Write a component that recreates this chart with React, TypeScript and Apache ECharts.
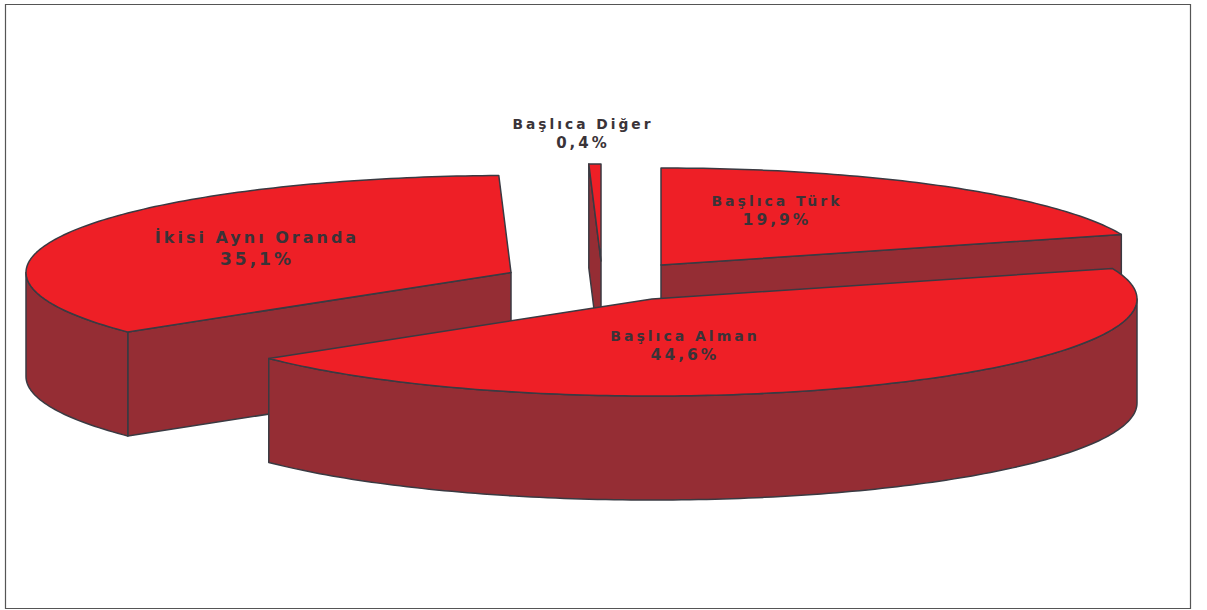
import React, { useEffect, useRef } from "react";
import * as echarts from "echarts";

// Share of each group, clockwise from twelve o'clock.
const categories = ["Başlıca Türk", "Başlıca Alman", "İkisi Aynı Oranda", "Başlıca Diğer"];
const shares = [19.9, 44.6, 35.1, 0.4];

// Exploded wedge placement: hub position, paint order, caption anchor and sizes.
const hubs = [
  [661, 265],
  [652, 299],
  [511, 272.5],
  [601, 261],
];
const paintOrder = [2, 3, 0, 1];
const captions = [
  { x: 777, y: 201, dy: 18.5, size: 14, valueSize: 15.5 },
  { x: 685, y: 336, dy: 19, size: 14, valueSize: 15.5 },
  { x: 257, y: 237, dy: 22, size: 16, valueSize: 17 },
  { x: 583, y: 124, dy: 19, size: 13.8, valueSize: 15 },
];

const RX = 485;
const RY = 97;
const DEPTH = 104;
const TOP_FILL = "#EE1F26";
const WALL_FILL = "#952D34";
const EDGE = "#3A3A42";
const INK = "#3A3338";
const DEG = Math.PI / 180;

const rimPoint = (hub: number[], deg: number, drop = 0) => [
  hub[0] + RX * Math.sin(deg * DEG),
  hub[1] - RY * Math.cos(deg * DEG) + drop,
];

const arcPoints = (hub: number[], from: number, to: number, drop = 0) => {
  const steps = Math.max(2, Math.ceil(Math.abs(to - from)));
  const pts: number[][] = [];
  for (let i = 0; i <= steps; i++) pts.push(rimPoint(hub, from + ((to - from) * i) / steps, drop));
  return pts;
};

const formatShare = (v: number) => v.toFixed(1).replace(".", ",") + "%";

const total = shares.reduce((a, b) => a + b, 0);

function renderWedge(params: any, api: any) {
  const i = params.dataIndex;
  const before = shares.slice(0, i).reduce((a, b) => a + b, 0);
  const start = (before / total) * 360;
  const end = start + (api.value(0) / total) * 360;
  const hub = hubs[i];
  const base = paintOrder[i] * 10;
  const face = (points: number[][], fill: string, z2: number) => ({
    type: "polygon",
    z2,
    shape: { points },
    style: { fill, stroke: EDGE, lineWidth: 1.5, lineJoin: "round" },
  });
  const children: any[] = [];

  // Cut faces that look toward the viewer
  if (start > 180 && start < 360) {
    const p = rimPoint(hub, start);
    children.push(face([hub, p, [p[0], p[1] + DEPTH], [hub[0], hub[1] + DEPTH]], WALL_FILL, base));
  }
  if (end > 0 && end < 180) {
    const p = rimPoint(hub, end);
    children.push(face([hub, p, [p[0], p[1] + DEPTH], [hub[0], hub[1] + DEPTH]], WALL_FILL, base));
  }

  // Outer rim, only the front half of the ellipse shows
  const rimFrom = Math.max(start, 90);
  const rimTo = Math.min(end, 270);
  if (rimTo > rimFrom) {
    children.push(
      face(
        [...arcPoints(hub, rimFrom, rimTo), ...arcPoints(hub, rimTo, rimFrom, DEPTH)],
        WALL_FILL,
        base + 1
      )
    );
  }

  // Top surface
  children.push(face([hub, ...arcPoints(hub, start, end)], TOP_FILL, base + 2));

  const cap = captions[i];
  const label = (text: string, y: number, size: number) => ({
    type: "text",
    z2: 100,
    style: {
      text,
      x: cap.x,
      y,
      fill: INK,
      align: "center",
      verticalAlign: "middle",
      font: `bold ${size}px "DejaVu Sans"`,
    },
  });
  children.push(
    label(categories[i], cap.y, cap.size),
    label(formatShare(api.value(0)), cap.y + cap.dy, cap.valueSize)
  );

  return { type: "group", children };
}

export default function App() {
  const ref = useRef<HTMLDivElement>(null);

  useEffect(() => {
    const chart = echarts.init(ref.current!, undefined, { renderer: "svg" });
    chart.setOption({
      animation: false,
      backgroundColor: "#FFFFFF",
      graphic: [
        {
          type: "rect",
          z: 0,
          shape: { x: 5.5, y: 4.5, width: 1185, height: 604 },
          style: { fill: "#FFFFFF", stroke: "#555555", lineWidth: 1.2 },
        },
      ],
      series: [
        {
          type: "custom",
          coordinateSystem: "none",
          silent: true,
          z: 5,
          renderItem: renderWedge,
          data: shares.map((v) => [v]),
        },
      ],
    });
    return () => chart.dispose();
  }, []);

  return (
    <>
      <style>{`.exploded-pie text { letter-spacing: 3px; }`}</style>
      <div
        ref={ref}
        className="exploded-pie"
        style={{ position: "fixed", left: 0, top: 0, width: 1207, height: 610 }}
      />
    </>
  );
}
